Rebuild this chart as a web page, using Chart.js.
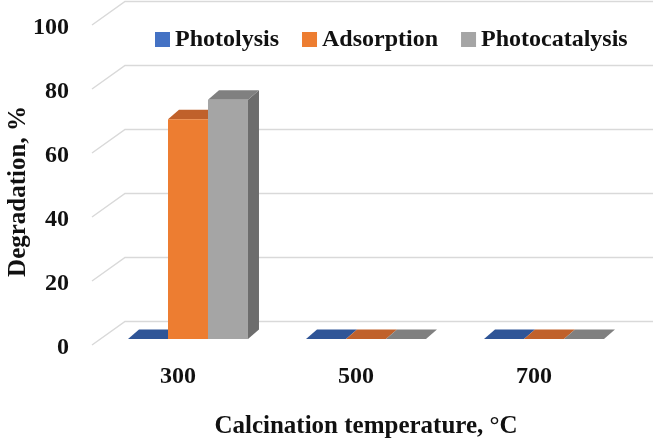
<!DOCTYPE html>
<html>
<head>
<meta charset="utf-8">
<script src="https://cdn.jsdelivr.net/npm/chart.js@4"></script>
<style>
  html, body { margin: 0; padding: 0; background: #fff; }
</style>
</head>
<body>
<canvas id="chart" width="656" height="444"></canvas>
<script>
const categories = ['300', '500', '700'];
const seriesNames = ['Photolysis', 'Adsorption', 'Photocatalysis'];
const photolysis = [0, 0, 0];
const adsorption = [68.7, 0, 0];
const photocatalysis = [74.8, 0, 0];
const yTicks = [0, 20, 40, 60, 80, 100];

const FONT = "'Liberation Serif', 'Times New Roman', serif";
const TEXT = '#111111';
const frontColors = ['#4472c4', '#ed7d31', '#a5a5a5'];
const topColors = ['#2f5597', '#c0612b', '#808080'];
const sideColors = ['#2f528f', '#ae5a21', '#6d6d6d'];
const DX = 11, DY = -9.5;   // bar depth

// back wall grid + top/side faces of the bars (fronts are drawn by Chart.js)
const bars3d = {
  id: 'bars3d',
  beforeDatasetsDraw(chart) {
    const { ctx, chartArea: a, scales: { y } } = chart;
    ctx.save();
    ctx.strokeStyle = '#d9d9d9';
    ctx.lineWidth = 1.5;
    yTicks.forEach(v => {
      const py = y.getPixelForValue(v);
      ctx.beginPath();
      ctx.moveTo(a.left - 7, py + 6);
      ctx.lineTo(a.left + 26, py - 17.5);
      ctx.lineTo(a.right + 20, py - 17.5);
      ctx.stroke();
    });
    chart.data.datasets.forEach((ds, i) => {
      chart.getDatasetMeta(i).data.forEach(bar => {
        const { x, y: by, base, width } = bar.getProps(['x', 'y', 'base', 'width'], true);
        const l = x - width / 2, r = x + width / 2;
        if (base - by > 0.5) {
          ctx.fillStyle = sideColors[i];
          ctx.beginPath();
          ctx.moveTo(r, by);
          ctx.lineTo(r + DX, by + DY);
          ctx.lineTo(r + DX, base + DY);
          ctx.lineTo(r, base);
          ctx.closePath();
          ctx.fill();
        }
        ctx.fillStyle = topColors[i];
        ctx.beginPath();
        ctx.moveTo(l, by);
        ctx.lineTo(l + DX, by + DY);
        ctx.lineTo(r + DX, by + DY);
        ctx.lineTo(r, by);
        ctx.closePath();
        ctx.fill();
      });
    });
    ctx.restore();
  }
};

// legend sits inside the plot, above the bars
const legendInside = {
  id: 'legendInside',
  afterDraw(chart) {
    const ctx = chart.ctx;
    ctx.save();
    ctx.font = 'bold 24px ' + FONT;
    ctx.textBaseline = 'middle';
    let x = 155;
    const cy = 39.5;
    chart.data.datasets.forEach(ds => {
      ctx.fillStyle = ds.backgroundColor;
      ctx.fillRect(x, cy - 7.5, 15, 15);
      ctx.fillStyle = TEXT;
      ctx.fillText(ds.label, x + 20, cy);
      x += 20 + ctx.measureText(ds.label).width + 23;
    });
    ctx.restore();
  }
};

const font = { family: FONT, size: 24, weight: 'bold' };
const titleFont = { family: FONT, size: 25, weight: 'bold' };

new Chart(document.getElementById('chart'), {
  type: 'bar',
  data: {
    labels: categories,
    datasets: [photolysis, adsorption, photocatalysis].map((values, i) => ({
      label: seriesNames[i],
      data: values,
      backgroundColor: frontColors[i],
      borderWidth: 0,
      categoryPercentage: 0.674,
      barPercentage: 1,
    })),
  },
  options: {
    responsive: false,
    animation: false,
    devicePixelRatio: 1,
    layout: { autoPadding: false, padding: { top: 19, right: 23, left: 0, bottom: 0 } },
    plugins: {
      legend: { display: false },
      tooltip: { enabled: false },
    },
    scales: {
      x: {
        grid: { display: false, drawTicks: false },
        border: { display: false },
        ticks: { font, color: TEXT, padding: 23, labelOffset: -10 },
        title: {
          display: true,
          text: 'Calcination temperature, °C',
          font: titleFont, color: TEXT,
          padding: { top: 23, bottom: 2 },
        },
        afterFit: s => { s.height = 105; s.paddingLeft = 0; s.paddingRight = 0; },
      },
      y: {
        min: 0,
        max: 100,
        grid: { display: false, drawTicks: false },
        border: { display: false },
        ticks: { stepSize: 20, font, color: TEXT, padding: 30, labelOffset: 9 },
        title: {
          display: true,
          text: 'Degradation, %    ',
          font: titleFont, color: TEXT,
          padding: { top: 4, bottom: 0 },
        },
        afterFit: s => { s.width = 99; s.paddingTop = 0; s.paddingBottom = 0; },
      },
    },
  },
  plugins: [bars3d, legendInside],
});
</script>
</body>
</html>
